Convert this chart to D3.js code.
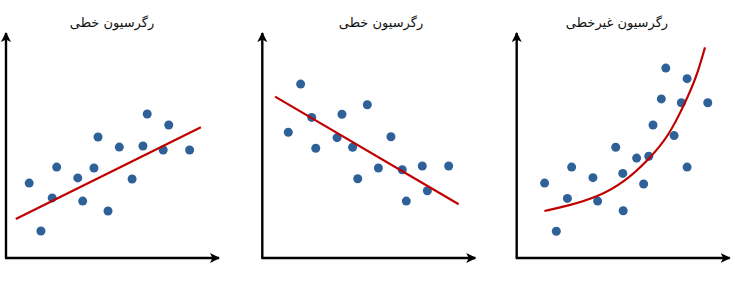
<!DOCTYPE html>
<html>
<head>
<meta charset="utf-8">
<script src="https://cdn.jsdelivr.net/npm/d3@7"></script>
<style>
  body { margin: 0; background: #fff; }
</style>
</head>
<body>
<div id="chart"></div>
<script>
var titles = ["رگرسیون خطی", "رگرسیون خطی", "رگرسیون غیرخطی"];

// panel 1: positive linear
var pts1 = [[1.09,3.33],[1.64,1.20],[2.17,2.67],[2.38,4.04],[3.37,3.56],[3.60,2.53],[4.13,4.00],[4.32,5.38],
            [4.79,2.09],[5.32,4.93],[5.92,3.51],[6.43,4.98],[6.63,6.40],[7.38,4.80],[7.64,5.91],[8.62,4.80]];
var fit1 = [[0.46,1.73],[9.15,5.81]];

// panel 2: negative linear
var pts2 = [[1.22,5.59],[1.80,7.73],[2.32,6.25],[2.51,4.88],[3.51,5.35],[3.74,6.39],[4.24,4.92],[4.48,3.52],
            [4.93,6.81],[5.45,4.00],[6.04,5.39],[6.57,3.92],[6.76,2.53],[7.51,4.09],[7.75,2.99],[8.75,4.09]];
var fit2 = [[0.60,7.17],[9.22,2.39]];

// panel 3: nonlinear
var pts3 = [[1.31,3.33],[1.86,1.19],[2.38,2.65],[2.58,4.04],[3.58,3.57],[3.80,2.53],[4.65,4.92],[4.98,3.76],
            [5.00,2.10],[5.63,4.44],[5.96,3.29],[6.20,4.52],[6.40,5.91],[6.79,7.07],[7.00,8.44],[7.39,5.44],
            [7.73,6.90],[8.00,7.97],[8.00,4.04],[8.97,6.90]];
var fit3 = [[1.30,2.09],[2.42,2.32],[3.83,2.72],[5.08,3.39],[6.18,4.36],[7.12,5.39],[7.90,6.88],[8.45,8.06],[8.84,9.36]];

var panels = [
  {title: titles[0], pts: pts1, fit: fit1, left: 6,     tx: 112},
  {title: titles[1], pts: pts2, fit: fit2, left: 262.3, tx: 381},
  {title: titles[2], pts: pts3, fit: fit3, left: 516.7, tx: 617}
];

var W = 735, H = 300;
var svg = d3.select("#chart").append("svg")
  .attr("width", W)
  .attr("height", H);

var defs = svg.append("defs");
defs.append("marker")
  .attr("id", "arrow")
  .attr("viewBox", "0 0 10 10")
  .attr("refX", 9).attr("refY", 5)
  .attr("markerWidth", 4.2).attr("markerHeight", 4.2)
  .attr("markerUnits", "strokeWidth")
  .attr("orient", "auto")
  .append("path")
  .attr("d", "M0,0 L10,5 L0,10 L2.5,5 Z")
  .attr("fill", "#000");

panels.forEach(function(p) {
  var x = d3.scaleLinear().domain([0, 10]).range([p.left, p.left + 213]);
  var y = d3.scaleLinear().domain([0, 10]).range([258, 33]);
  var g = svg.append("g");

  g.append("text")
    .attr("x", p.tx)
    .attr("y", 27)
    .attr("text-anchor", "middle")
    .attr("direction", "rtl")
    .attr("font-family", "'DejaVu Sans', 'Noto Sans', sans-serif")
    .attr("font-size", 13)
    .attr("fill", "#111")
    .text(p.title);

  // axes
  g.append("line")
    .attr("x1", x(0)).attr("y1", y(0))
    .attr("x2", x(0)).attr("y2", y(10))
    .attr("stroke", "#000").attr("stroke-width", 2.4)
    .attr("marker-end", "url(#arrow)");
  g.append("line")
    .attr("x1", x(0) - 1).attr("y1", y(0))
    .attr("x2", x(10)).attr("y2", y(0))
    .attr("stroke", "#000").attr("stroke-width", 2.4)
    .attr("marker-end", "url(#arrow)");

  g.selectAll("circle")
    .data(p.pts)
    .enter()
    .append("circle")
    .attr("cx", function(d) { return x(d[0]); })
    .attr("cy", function(d) { return y(d[1]); })
    .attr("r", 4.5)
    .attr("fill", "#2f6199");

  var line = d3.line()
    .x(function(d) { return x(d[0]); })
    .y(function(d) { return y(d[1]); })
    .curve(d3.curveBasis);

  g.append("path")
    .attr("d", line(p.fit))
    .attr("fill", "none")
    .attr("stroke", "#c00000")
    .attr("stroke-width", 2.2);
});
</script>
</body>
</html>
